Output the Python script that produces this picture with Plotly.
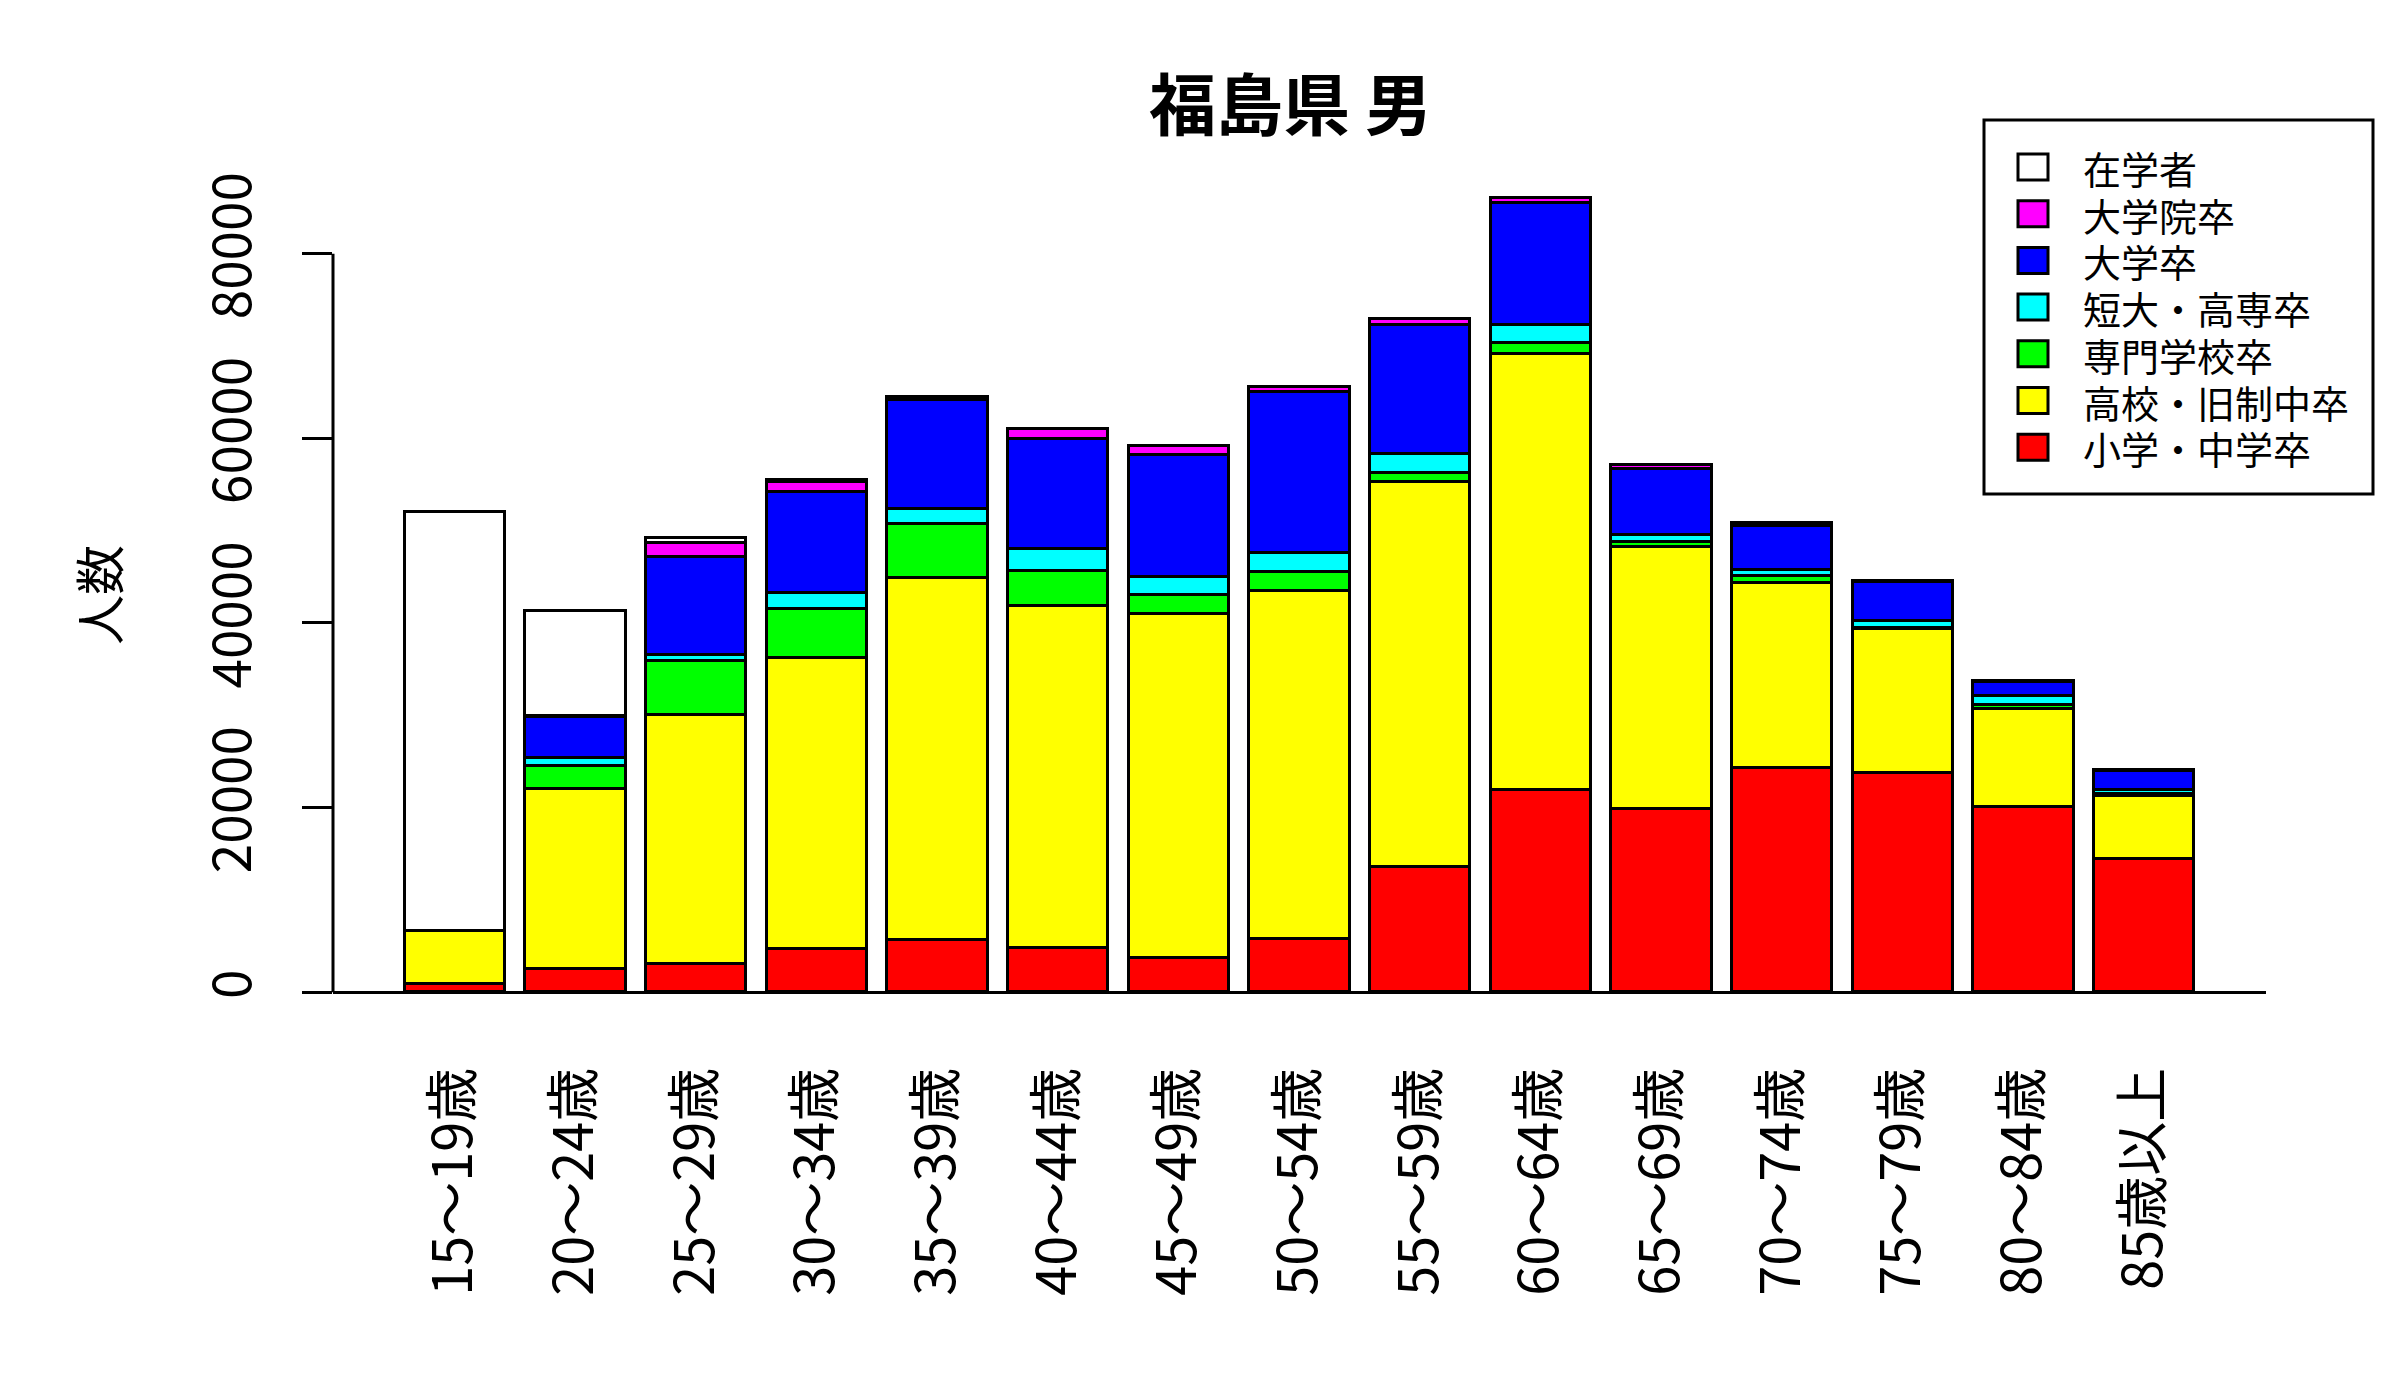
import plotly.graph_objects as go

# ---- data ----
age_groups = ["15～19歳", "20～24歳", "25～29歳", "30～34歳", "35～39歳", "40～44歳",
              "45～49歳", "50～54歳", "55～59歳", "60～64歳", "65～69歳", "70～74歳",
              "75～79歳", "80～84歳", "85歳以上"]

elem_junior = [890, 2540, 3060, 4630, 5710, 4810, 3660, 5810, 13540, 21910, 19820, 24290, 23730, 20040, 14400]
high_school = [5780, 19510, 27020, 31590, 39150, 37030, 37310, 37610, 41730, 47170, 28360, 20060, 15620, 10630, 6900]
vocational = [0, 2430, 5830, 5310, 5890, 3780, 2040, 2090, 990, 1220, 640, 690, 150, 470, 200]
junior_college = [0, 930, 640, 1710, 1570, 2380, 1920, 2090, 2030, 1920, 700, 700, 700, 910, 450]
university = [0, 4410, 10540, 10940, 11790, 11930, 13250, 17440, 14010, 13250, 7150, 4710, 4200, 1500, 2000]
graduate = [0, 60, 1580, 1130, 360, 1120, 990, 520, 580, 580, 400, 410, 90, 200, 140]
in_school = [45390, 11410, 580, 120, 0, 0, 0, 0, 0, 0, 0, 0, 0, 0, 0]

series_names = ["小学・中学卒", "高校・旧制中卒", "専門学校卒", "短大・高専卒", "大学卒", "大学院卒", "在学者"]
series_values = [elem_junior, high_school, vocational, junior_college, university, graduate, in_school]
series_colors = ["#FF0000", "#FFFF00", "#00FF00", "#00FFFF", "#0000FF", "#FF00FF", "#FFFFFF"]

y_ticks = [0, 20000, 40000, 60000, 80000]

FONT = "Noto Sans CJK JP"
W, H = 2400, 1400
OFF = 8  # page body margin
L, R, T, B = 333 - OFF, 134 + OFF, 166 - OFF, 376 + OFF
PW, PH = W - L - R, H - T - B

fig = go.Figure()
xpos = list(range(len(age_groups)))
for name, vals, col in zip(series_names, series_values, series_colors):
    fig.add_trace(go.Bar(
        x=xpos, y=vals, name=name, width=1 / 1.2,
        marker=dict(color=col, line=dict(color="black", width=3)),
        showlegend=False,
    ))

totals = [sum(v[i] for v in series_values) for i in range(len(age_groups))]
M = max(totals)

fig.update_layout(
    width=W, height=H,
    margin=dict(l=L, r=R, t=T, b=B, autoexpand=False),
    paper_bgcolor="white", plot_bgcolor="white",
    barmode="stack", bargap=0,
    font=dict(family=FONT, color="black", size=48),
    title=dict(text="<b>福島県 男</b>", x=0.5 - 9 / PW, xref="paper", xanchor="center",
               y=1 - (107 - OFF) / H, yref="container", yanchor="middle",
               font=dict(family=FONT, size=67, color="black")),
    xaxis=dict(range=[-1.01, len(age_groups) - 1 + 1.01], tickvals=xpos, ticktext=age_groups,
               tickangle=-90, ticks="", showgrid=False, zeroline=False, showline=False,
               tickfont=dict(size=54, family=FONT), ticklabelstandoff=32),
    yaxis=dict(range=[-0.04 * M, 1.04 * M], tickvals=y_ticks, ticktext=[str(v) for v in y_ticks],
               tickangle=-90, ticks="outside", ticklen=30, tickwidth=3, tickcolor="black",
               showgrid=False, zeroline=True, zerolinewidth=3, zerolinecolor="black",
               showline=False, tickfont=dict(size=53, family=FONT), ticklabelstandoff=30,
               title=dict(text="人数", font=dict(size=50, family=FONT), standoff=54)),
)

# y axis line only spanning the tick range (R style)
fig.add_shape(type="line", xref="paper", yref="y", x0=0, x1=0, y0=y_ticks[0], y1=y_ticks[-1],
              line=dict(color="black", width=3), layer="above")

# legend (R style, top item = last stacked series)
def px_x(px):
    return (px - OFF - L) / PW

def px_y(py):
    return (H - B - (py - OFF)) / PH

fig.add_shape(type="rect", xref="paper", yref="paper",
              x0=px_x(1984), x1=px_x(2373), y0=px_y(494), y1=px_y(120),
              line=dict(color="black", width=3), fillcolor="white", layer="above")
leg_names = series_names[::-1]
leg_colors = series_colors[::-1]
for i, (nm, col) in enumerate(zip(leg_names, leg_colors)):
    cy = 167 + 46.7 * i
    fig.add_shape(type="rect", xref="paper", yref="paper",
                  x0=px_x(2018), x1=px_x(2048), y0=px_y(cy + 13), y1=px_y(cy - 13),
                  line=dict(color="black", width=3), fillcolor=col, layer="above")
    fig.add_annotation(xref="paper", yref="paper", x=px_x(2082), y=px_y(cy),
                       text=nm, showarrow=False, xanchor="left", yanchor="middle",
                       height=42, borderpad=0,
                       font=dict(family=FONT, size=38, color="black"))

fig.write_html("out.html")
